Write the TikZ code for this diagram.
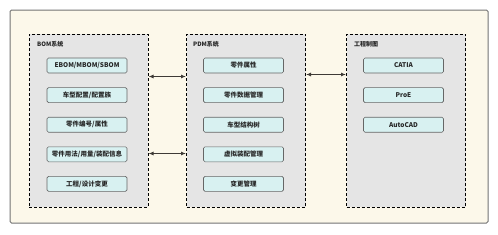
\documentclass[tikz,border=0pt]{standalone}
\usepackage{fontspec}
\setmainfont{Noto Sans CJK SC}
\usetikzlibrary{arrows.meta,positioning}
\definecolor{cream}{HTML}{FCF8EA}
\definecolor{groupgray}{HTML}{E5E5E5}
\definecolor{itemcyan}{HTML}{D8F1F1}
\definecolor{arrowdark}{HTML}{3E3A36}

\begin{document}
\begin{tikzpicture}[x=1pt,y=-1pt,font=\fontsize{6.5}{7}\selectfont\bfseries,>={Latex[length=5pt,width=4pt]},
  group/.style={draw=black,fill=groupgray,dashed,dash pattern=on 3pt off 2pt,line width=1pt,
    minimum width=119pt,minimum height=173pt,inner sep=0pt},
  item/.style={draw=black!60,fill=itemcyan,rounded corners=1.5pt,line width=.6pt,
    minimum width=80pt,minimum height=15pt,inner sep=0pt,text=black!85},
  grouptitle/.style={anchor=west,inner sep=0pt,text=black!85,font=\fontsize{6}{7}\selectfont\bfseries},
  link/.style={<->,draw=arrowdark,line width=1pt}]
 \useasboundingbox (0,0) rectangle (498,234);
 \draw[draw=black!55,fill=cream,line width=1pt,rounded corners=1.5pt] (10,10) rectangle (488,223);
 % three systems
 \node[group] (bom) at (88.5,120.5) {};
 \node[group] (pdm) at (246,120.5) {};
 \node[group] (eng) at (406,120.5) {};
 \node[grouptitle] (bomt) at (37,44) {BOM系统};
 \node[grouptitle] (pdmt) at (193,44) {PDM系统};
 \node[grouptitle] (engt) at (354,44) {工程制图};
 % items
 \foreach \t [count=\i] in {EBOM/MBOM/SBOM,车型配置/配置族,零件编号/属性,零件用法/用量/装配信息,工程/设计变更}
   \node[item] (bom\i) at (87,65.5+29.6*\i-29.6) {\t};
 \foreach \t [count=\i] in {零件属性,零件数据管理,车型结构树,虚拟装配管理,变更管理}
   \node[item] (pdm\i) at (243.5,65.5+29.6*\i-29.6) {\t};
 \foreach \t [count=\i] in {CATIA,ProE,AutoCAD}
   \node[item] (eng\i) at (403.5,65.5+29.6*\i-29.6) {\t};
 % links
 \draw[link] (bom.east |- 0,76.5) -- (pdm.west |- 0,76.5);
 \draw[link] (bom.east |- 0,153.5) -- (pdm.west |- 0,153.5);
 \draw[link] (pdm.east |- 0,74.5) -- (eng.west |- 0,74.5);
\end{tikzpicture}
\end{document}
